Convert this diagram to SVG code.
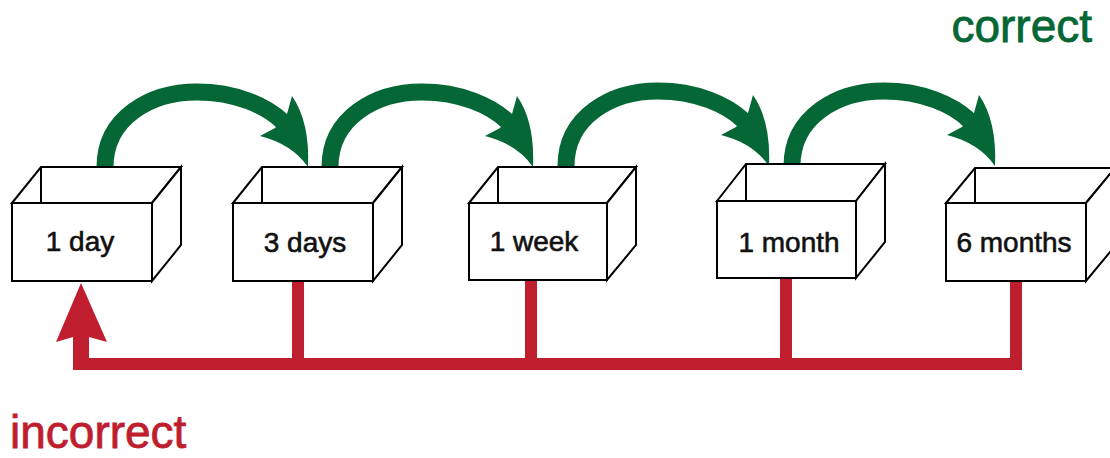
<svg xmlns="http://www.w3.org/2000/svg" xmlns:xlink="http://www.w3.org/1999/xlink" width="1110" height="458" viewBox="0 0 1110 458">
  <style>
    .box { fill: #fff; stroke: #000; stroke-width: 2; stroke-linejoin: miter; }
    .edge { fill: none; stroke: #000; stroke-width: 2; }
    .lbl { font-family: "Liberation Sans", Arial, sans-serif; font-size: 28px; fill: #111; stroke: #111; stroke-width: 0.6; text-anchor: middle; }
    .big { font-family: "Liberation Sans", Arial, sans-serif; font-size: 46px; stroke-width: 0.8; }
    .green { fill: #046735; }
    .red { fill: #be1e2e; }
  </style>
  <defs>
    <g id="hop">
      <path d="M105,167 C105,118 150,92 197,92 C236,92 266,106 282,121" fill="none" stroke="#046735" stroke-width="17"/>
      <path d="M308,167 Q310,122 292,96 L287,114 L275,128 L260,136 Q292,144 308,167 Z" fill="#046735"/>
    </g>
  </defs>

  <g id="connectors">
    <g id="correct-arrows">
      <use xlink:href="#hop" transform="translate(0,0)"/>
      <use xlink:href="#hop" transform="translate(225,0)"/>
      <use xlink:href="#hop" transform="translate(461,-1)"/>
      <use xlink:href="#hop" transform="translate(687,-1)"/>
    </g>
    <g id="incorrect-return" class="red">
      <rect x="73" y="358" width="949" height="12"/>
      <rect x="73" y="335" width="16" height="35"/>
      <polygon points="81,283 107,342 89,337 73,337 56,342"/>
      <rect x="292" y="280" width="12" height="85"/>
      <rect x="525" y="280" width="12" height="85"/>
      <rect x="780" y="278" width="12" height="87"/>
      <rect x="1010" y="280" width="12" height="85"/>
    </g>
  </g>

  <g id="box-1day">
    <polygon class="box" points="12,203 41,167 181,167 152,203"/>
    <polygon class="box" points="152,203 181,167 181,245 152,281"/>
    <line class="edge" x1="41" y1="167" x2="41" y2="203"/>
    <rect class="box" x="12" y="203" width="140" height="78"/>
    <text class="lbl" x="80" y="251">1 day</text>
  </g>

  <g id="box-3days">
    <polygon class="box" points="233,203 262,167 402,167 373,203"/>
    <polygon class="box" points="373,203 402,167 402,245 373,281"/>
    <line class="edge" x1="262" y1="167" x2="262" y2="203"/>
    <rect class="box" x="233" y="203" width="140" height="78"/>
    <text class="lbl" x="305" y="252">3 days</text>
  </g>

  <g id="box-1week">
    <polygon class="box" points="469,203 498,167 636,167 607,203"/>
    <polygon class="box" points="607,203 636,167 636,245 607,280"/>
    <line class="edge" x1="498" y1="167" x2="498" y2="203"/>
    <rect class="box" x="469" y="203" width="138" height="77"/>
    <text class="lbl" x="534" y="251">1 week</text>
  </g>

  <g id="box-1month">
    <polygon class="box" points="717,201 746,164 885,164 856,201"/>
    <polygon class="box" points="856,201 885,164 885,242 856,278"/>
    <line class="edge" x1="746" y1="164" x2="746" y2="201"/>
    <rect class="box" x="717" y="201" width="139" height="77"/>
    <text class="lbl" x="789" y="252">1 month</text>
  </g>

  <g id="box-6months">
    <polygon class="box" points="946,203 975,168 1115,168 1086,203"/>
    <polygon class="box" points="1086,203 1115,168 1115,246 1086,281"/>
    <line class="edge" x1="975" y1="168" x2="975" y2="203"/>
    <rect class="box" x="946" y="203" width="140" height="78"/>
    <text class="lbl" x="1014" y="252">6 months</text>
  </g>

  <g id="label-correct">
    <text class="big green" x="1092" y="42" text-anchor="end" stroke="#046735">correct</text>
  </g>
  <g id="label-incorrect">
    <text class="big red" x="10" y="448" stroke="#be1e2e">incorrect</text>
  </g>
</svg>
